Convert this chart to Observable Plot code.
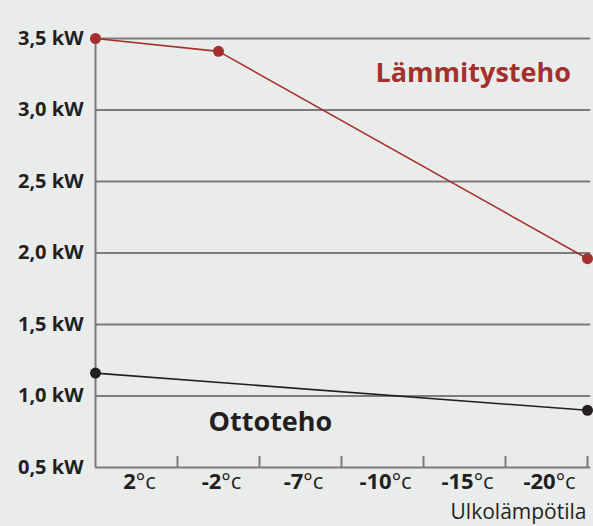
<!DOCTYPE html>
<html><head><meta charset="utf-8">
<script src="https://cdn.jsdelivr.net/npm/d3@7"></script>
<script src="https://cdn.jsdelivr.net/npm/@observablehq/plot@0.6"></script>
<style>html,body{margin:0;padding:0;background:#eaeceb;overflow:hidden;}</style>
</head><body><div id="chart"></div>
<script>
// Category labels along the outdoor-temperature axis
const temperatures = ["2°c", "-2°c", "-7°c", "-10°c", "-15°c", "-20°c"];
// Heating power (Lämmitysteho): position along category axis (band units) and kW
const heatX = [0, 1.5, 6];
const heatKW = [3.5, 3.41, 1.96];
// Input power (Ottoteho)
const inputX = [0, 6];
const inputKW = [1.16, 0.90];
// Y tick values
const yTicks = [0.5, 1.0, 1.5, 2.0, 2.5, 3.0, 3.5];
const seriesNames = ["Lämmitysteho", "Ottoteho"];
const axisTitle = "Ulkolämpötila";

const RED = "#a4302d", INK = "#231f20", GRID = "#7b7d7c";
const heat = heatX.map((x, i) => ({x, kW: heatKW[i]}));
const input = inputX.map((x, i) => ({x, kW: inputKW[i]}));
const n = temperatures.length;
const tickPos = d3.range(1, n + 1);

const chart = Plot.plot({
  width: 593, height: 526,
  marginLeft: 95, marginRight: 6, marginTop: 38, marginBottom: 59,
  style: {background: "#eaeceb", fontFamily: "'Open Sans', 'Noto Sans', sans-serif", overflow: "visible"},
  x: {domain: [0, n], axis: null},
  y: {domain: [yTicks[0], yTicks[yTicks.length - 1]], axis: null},
  marks: [
    Plot.ruleY(yTicks, {x1: 0, x2: n + 0.04, stroke: GRID, strokeWidth: 2}),
    Plot.ruleX([0], {y1: yTicks[0], y2: yTicks[yTicks.length - 1], stroke: GRID, strokeWidth: 2}),
    Plot.ruleX(tickPos, {y1: yTicks[0], y2: yTicks[0] + 0.077, stroke: GRID, strokeWidth: 2}),
    Plot.line(heat, {x: "x", y: "kW", stroke: RED, strokeWidth: 1.6}),
    Plot.dot(heat, {x: "x", y: "kW", r: 5.5, fill: RED}),
    Plot.line(input, {x: "x", y: "kW", stroke: INK, strokeWidth: 1.6}),
    Plot.dot(input, {x: "x", y: "kW", r: 5.5, fill: INK}),
    Plot.text(yTicks, {x: 0, y: d => d, text: d => d.toFixed(1).replace(".", ",") + " kW",
      textAnchor: "end", dx: -12, fontSize: 20, fontWeight: 700, fill: INK}),
    Plot.text(temperatures, {x: (d, i) => i + 0.5, y: () => yTicks[0], dy: 14, dx: 3,
      lineAnchor: "middle", fontSize: 22, fontWeight: 700, fill: INK}),
    Plot.text([seriesNames[0]], {frameAnchor: "top-left", dx: 280, dy: 35, textAnchor: "start",
      lineAnchor: "middle", fontSize: 27, fontWeight: 700, fill: RED}),
    Plot.text([seriesNames[1]], {frameAnchor: "top-left", dx: 113, dy: 384, textAnchor: "start",
      lineAnchor: "middle", fontSize: 27, fontWeight: 700, fill: INK}),
    Plot.text([axisTitle], {frameAnchor: "bottom-right", dx: -1, dy: 45, textAnchor: "end",
      lineAnchor: "middle", fontSize: 21, fontWeight: 400, fill: INK})
  ]
});

// lighter weight for the "°c" unit part of temperature labels
d3.select(chart).selectAll("text").filter(function() { return this.textContent.includes("°"); })
  .each(function() {
    const t = this.textContent;
    const idx = t.indexOf("°");
    const el = d3.select(this);
    el.text("");
    el.append("tspan").text(t.slice(0, idx));
    el.append("tspan").attr("font-weight", 400).text(t.slice(idx));
  });

document.getElementById("chart").appendChild(chart);
</script>
</body></html>
